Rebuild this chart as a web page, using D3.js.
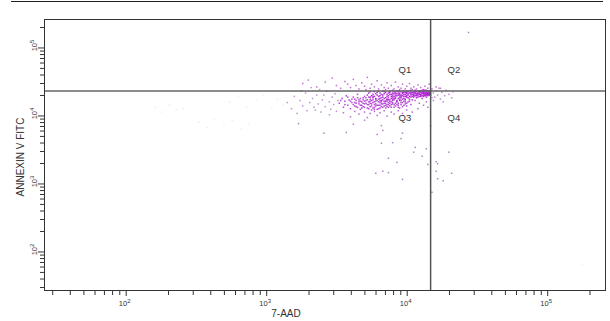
<!DOCTYPE html>
<html>
<head>
<meta charset="utf-8">
<script src="https://cdn.jsdelivr.net/npm/d3@7"></script>
<style>
  html, body { margin: 0; padding: 0; background: #fff; }
  svg { display: block; font-family: "Liberation Sans", Arial, sans-serif; }
</style>
</head>
<body>
<div id="chart"></div>
<script>
// log10 of (7-AAD, ANNEXIN V FITC) per event
const coreEvents = [
  [3.74,4.27],[3.76,4.31],[3.78,4.24],[3.79,4.34],[3.81,4.29],[3.82,4.22],[3.83,4.36],[3.85,4.26],[3.86,4.31],[3.87,4.23],
  [3.88,4.34],[3.89,4.28],[3.90,4.37],[3.91,4.25],[3.92,4.30],[3.93,4.21],[3.94,4.33],[3.95,4.27],[3.96,4.35],[3.97,4.24],
  [3.98,4.31],[3.99,4.28],[4.00,4.36],[4.01,4.26],[4.02,4.33],[4.03,4.30],[4.04,4.23],[4.05,4.35],[4.06,4.29],[4.07,4.32],
  [4.08,4.27],[4.09,4.36],[4.10,4.31],[4.11,4.25],[4.12,4.34],[4.13,4.29],[4.14,4.37],[4.15,4.32],[4.16,4.35],
  [3.73,4.33],[3.75,4.22],[3.77,4.28],[3.80,4.36],[3.81,4.25],[3.84,4.32],[3.85,4.21],[3.87,4.29],[3.88,4.36],[3.90,4.24],
  [3.91,4.32],[3.92,4.27],[3.94,4.36],[3.95,4.22],[3.96,4.30],[3.98,4.25],[3.99,4.34],[4.00,4.29],[4.02,4.24],[4.03,4.37],
  [4.04,4.31],[4.06,4.34],[4.07,4.26],[4.08,4.33],[4.10,4.28],[4.11,4.35],[4.12,4.30],[4.13,4.33],[4.14,4.27],[4.15,4.36],
  [4.16,4.31],
  [3.72,4.30],[3.74,4.35],[3.76,4.26],[3.78,4.32],[3.80,4.28],[3.82,4.31],[3.83,4.27],[3.84,4.35],[3.86,4.24],[3.87,4.33],
  [3.89,4.31],[3.90,4.27],[3.91,4.35],[3.93,4.29],[3.94,4.25],[3.95,4.32],[3.97,4.29],[3.98,4.36],[3.99,4.23],[4.01,4.32],
  [4.02,4.28],[4.03,4.34],[4.05,4.27],[4.05,4.31],[4.06,4.36],[4.08,4.30],[4.09,4.33],[4.10,4.34],[4.11,4.29],[4.12,4.37],
  [4.13,4.32],[4.14,4.30],[4.15,4.29],[4.16,4.33],[4.17,4.36],
  [3.75,4.29],[3.77,4.35],[3.79,4.30],[3.81,4.33],[3.83,4.30],[3.85,4.34],[3.86,4.28],[3.88,4.31],[3.89,4.25],[3.90,4.33],
  [3.92,4.35],[3.93,4.32],[3.95,4.30],[3.96,4.26],[3.97,4.34],[3.98,4.28],[4.00,4.32],[4.01,4.35],[4.03,4.27],[4.04,4.34],
  [4.05,4.33],[4.07,4.29],[4.08,4.36],[4.09,4.31],[4.11,4.32],[4.12,4.28],[4.13,4.35],[4.14,4.33],[4.16,4.30],
  [3.90,4.30],[3.91,4.28],[3.92,4.33],[3.93,4.36],[3.94,4.30],[3.95,4.35],[3.96,4.28],[3.97,4.32],[3.98,4.34],[3.99,4.31],
  [4.00,4.27],[4.00,4.34],[4.01,4.30],[4.02,4.36],[4.03,4.32],[4.04,4.28],[4.05,4.29],[4.06,4.32],[4.07,4.35],[4.07,4.30],
  [4.08,4.32],[4.09,4.28],[4.09,4.35],[4.10,4.30],[4.10,4.36],[4.11,4.33],[4.12,4.32],[4.12,4.35],[4.13,4.30],[4.13,4.37],
  [4.14,4.34],[4.14,4.31],[4.15,4.34],[4.15,4.31],[4.16,4.36],[4.16,4.32],[4.17,4.33],[4.17,4.30],[4.11,4.37],[4.06,4.37]
];

const bodyEvents = [
  [3.52,4.18],[3.54,4.25],[3.55,4.12],[3.56,4.21],[3.57,4.29],[3.58,4.15],[3.59,4.23],[3.60,4.10],[3.61,4.19],[3.62,4.27],
  [3.63,4.14],[3.64,4.22],[3.65,4.31],[3.66,4.17],[3.67,4.09],[3.67,4.25],[3.68,4.20],[3.69,4.13],[3.70,4.28],[3.71,4.18],
  [3.72,4.11],[3.72,4.23],[3.73,4.16],[3.74,4.21],[3.75,4.08],[3.75,4.14],[3.76,4.19],[3.77,4.12],[3.78,4.17],[3.79,4.22],
  [3.80,4.10],[3.80,4.15],[3.81,4.19],[3.82,4.13],[3.83,4.17],[3.84,4.21],[3.85,4.11],[3.86,4.16],[3.87,4.19],[3.88,4.14],
  [3.89,4.20],[3.90,4.17],[3.91,4.12],[3.92,4.18],[3.94,4.15],[3.96,4.19],[3.97,4.13],[3.99,4.17],[4.01,4.20],[4.03,4.16],
  [3.53,4.22],[3.56,4.16],[3.58,4.27],[3.60,4.21],[3.62,4.16],[3.63,4.24],[3.65,4.12],[3.66,4.20],[3.68,4.15],[3.69,4.26],
  [3.70,4.17],[3.71,4.22],[3.73,4.27],[3.74,4.13],[3.76,4.23],[3.77,4.16],[3.78,4.21],[3.79,4.09],[3.81,4.15],[3.82,4.20],
  [3.84,4.14],[3.85,4.18],[3.87,4.12],[3.88,4.18],[3.90,4.22],[3.91,4.16],[3.93,4.20],[3.95,4.11],[3.98,4.21],[4.00,4.14],
  [3.64,4.18],[3.66,4.23],[3.68,4.11],[3.70,4.21],[3.72,4.16],[3.74,4.18],[3.76,4.11],[3.78,4.14],[3.80,4.20],[3.82,4.17],
  [3.83,4.23],[3.86,4.21],[3.88,4.23],[3.93,4.16],
  [3.61,4.24],[3.63,4.19],[3.64,4.13],[3.65,4.26],[3.67,4.21],[3.67,4.15],[3.69,4.18],[3.69,4.23],[3.70,4.12],[3.71,4.26],
  [3.73,4.20],[3.73,4.10],[3.74,4.24],[3.75,4.17],[3.76,4.28],[3.77,4.20],[3.77,4.09],[3.78,4.25],[3.79,4.15],[3.80,4.24],
  [3.81,4.11],[3.81,4.22],[3.82,4.26],[3.83,4.12],[3.84,4.18],[3.84,4.25],[3.85,4.15],[3.86,4.23],[3.86,4.13],[3.87,4.26],
  [3.87,4.16],[3.88,4.21],[3.89,4.16],[3.89,4.12],[3.90,4.19],[3.91,4.23],[3.92,4.14],[3.92,4.25],[3.93,4.22],[3.94,4.18],
  [3.94,4.12],[3.95,4.24],[3.96,4.16],[3.96,4.22],[3.97,4.19],[3.98,4.15],[3.99,4.24],[3.99,4.20],[4.00,4.18],[4.02,4.21]
];

const upperEvents = [
  [3.26,4.47],[3.30,4.52],[3.36,4.42],[3.42,4.49],[3.47,4.55],[3.50,4.44],[3.53,4.40],[3.56,4.50],[3.58,4.46],[3.60,4.41],
  [3.62,4.53],[3.64,4.44],[3.66,4.39],[3.68,4.48],[3.70,4.43],[3.72,4.56],[3.74,4.40],[3.75,4.46],[3.77,4.42],[3.79,4.51],
  [3.80,4.39],[3.82,4.45],[3.84,4.41],[3.86,4.48],[3.87,4.40],[3.89,4.44],[3.91,4.39],[3.92,4.49],[3.94,4.42],[3.96,4.40],
  [3.97,4.46],[3.99,4.39],[4.00,4.43],[4.02,4.47],[4.03,4.40],[4.05,4.42],[4.07,4.39],[4.08,4.45],[4.10,4.41],[4.12,4.38],
  [4.13,4.43],[4.15,4.40],[4.16,4.46],[4.18,4.39],[4.21,4.42],[4.24,4.40],[3.71,4.38],[3.85,4.38],[3.95,4.38],[4.04,4.38]
];

const leftEvents = [
  [3.15,4.19],[3.18,4.10],[3.20,4.28],[3.22,4.03],[3.24,4.22],[3.26,4.14],[3.28,4.33],[3.29,4.07],[3.31,4.19],[3.33,4.25],
  [3.34,4.12],[3.36,4.30],[3.37,4.17],[3.39,4.05],[3.40,4.23],[3.42,4.13],[3.43,4.36],[3.45,4.20],[3.46,4.09],[3.47,4.27],
  [3.48,4.16],[3.49,4.32],[3.50,4.06],[3.51,4.22],[3.45,4.01],[3.38,4.38],[3.32,4.41],[3.25,4.36],[3.41,4.30],[3.35,4.08]
];

const lowerEvents = [
  [3.55,4.04],[3.60,3.98],[3.63,4.06],[3.66,4.02],[3.70,4.05],[3.72,3.97],[3.74,4.03],[3.77,4.06],[3.79,4.00],[3.81,4.04],
  [3.84,4.07],[3.86,3.99],[3.89,4.05],[3.91,4.02],[3.94,4.07],[3.97,4.03],[4.00,4.08],[4.04,4.05],[4.08,4.10],[4.12,4.15],
  [4.15,4.12],[4.14,4.20],[4.09,4.18],[4.06,4.22]
];

const rightEvents = [
  [4.19,4.33],[4.20,4.27],[4.21,4.36],[4.22,4.30],[4.24,4.24],[4.25,4.34],[4.27,4.29],[4.28,4.37],[4.30,4.31],[4.32,4.26],
  [4.19,4.22],[4.23,4.40],[4.26,4.20],[4.18,4.26],[4.33,4.35]
];

const scatterEvents = [
  [3.82,3.85],[3.83,3.78],[3.79,3.72],[3.82,3.59],[3.97,3.74],[3.90,3.60],[3.96,3.66],[4.06,3.53],[4.05,3.46],[4.14,3.51],
  [4.11,3.40],[3.87,3.37],[3.93,3.31],[3.83,3.18],[3.78,3.15],[3.87,3.16],[3.97,3.06],[4.15,3.28],[4.21,3.32],[4.22,3.29],
  [4.30,3.46],[4.21,3.18],[4.32,3.15],[4.22,3.07],[4.26,3.04],[4.18,2.87],[4.17,3.84],[3.23,3.88],[3.41,3.74],[3.57,3.75],
  [3.62,3.87],[3.70,3.93],[4.44,5.22]
];

const faintEvents = [
  [2.21,4.12],[2.26,4.05],[2.31,4.15],[2.36,4.08],[2.41,4.10],[2.52,3.90],[2.58,3.82],[2.63,3.94],[2.70,3.86],[2.76,3.92],
  [2.82,3.80],[2.88,3.88],[2.74,4.20],[2.80,4.28],[2.86,4.12],[2.93,4.22],[2.98,4.30],[3.04,4.10],[3.08,4.24],[3.12,4.16],
  [5.25,1.81]
];

const gateX = 14800;
const gateY = 22900;
const quadLabels = ["Q1", "Q2", "Q3", "Q4"];
const xTitle = "7-AAD";
const yTitle = "ANNEXIN V FITC";

const W = 610, H = 321;
const frame = { left: 44, top: 19, right: 606, bottom: 291 };

const svg = d3.select("#chart").append("svg")
  .attr("width", W)
  .attr("height", H);

// rule across the top of the page
svg.append("line")
  .attr("x1", 11).attr("x2", 603)
  .attr("y1", 1.5).attr("y2", 1.5)
  .attr("stroke", "#222").attr("stroke-width", 1);

const x = d3.scaleLog().domain([262144 / 1e4, 262144]).range([frame.left, frame.right]);
const y = d3.scaleLog().domain([262144 / 1e4, 262144]).range([frame.bottom, frame.top]);

const isMajor = d => Math.abs(Math.log10(d) - Math.round(Math.log10(d))) < 1e-6;
const tickVals = x.ticks();

// x axis ticks
const gx = svg.append("g")
  .attr("transform", "translate(0," + frame.bottom + ")")
  .call(d3.axisBottom(x).tickValues(tickVals).tickSize(4).tickSizeOuter(0).tickFormat(""));
gx.select(".domain").remove();
gx.selectAll(".tick line").attr("stroke", "#333")
  .attr("y2", d => isMajor(d) ? 5 : 4);

// y axis ticks
const gy = svg.append("g")
  .attr("transform", "translate(" + frame.left + ",0)")
  .call(d3.axisLeft(y).tickValues(tickVals).tickSize(4).tickSizeOuter(0).tickFormat(""));
gy.select(".domain").remove();
gy.selectAll(".tick line").attr("stroke", "#333")
  .attr("x2", d => isMajor(d) ? -6 : -4);

const majors = tickVals.filter(isMajor);

// x tick labels: 10 with superscript exponent
majors.forEach(v => {
  const t = svg.append("text")
    .attr("x", x(v) - 1)
    .attr("y", 306)
    .attr("text-anchor", "middle")
    .attr("fill", "#333")
    .style("font-size", "7.5px");
  t.append("tspan").text("10");
  t.append("tspan").attr("dy", -3).style("font-size", "6px").text(Math.round(Math.log10(v)));
});

// y tick labels, rotated
majors.forEach(v => {
  const t = svg.append("text")
    .attr("transform", "translate(37," + (y(v) - 2) + ") rotate(-90)")
    .attr("text-anchor", "middle")
    .attr("fill", "#333")
    .style("font-size", "7.5px");
  t.append("tspan").text("10");
  t.append("tspan").attr("dy", -3).style("font-size", "6px").text(Math.round(Math.log10(v)));
});

// events
const toData = d => [Math.pow(10, d[0]), Math.pow(10, d[1])];
const plotEvents = (data, color, opacity) => {
  svg.append("g").selectAll("rect")
    .data(data.map(toData))
    .enter()
    .append("rect")
    .attr("x", d => x(d[0]) - 0.75)
    .attr("y", d => y(d[1]) - 0.75)
    .attr("width", 1.5)
    .attr("height", 1.5)
    .attr("fill", color)
    .attr("fill-opacity", opacity);
};

plotEvents(faintEvents, "#e6dce8", 0.5);
plotEvents(scatterEvents, "#9a58b0", 0.75);
plotEvents(leftEvents, "#b060c8", 0.7);
plotEvents(upperEvents, "#b050c8", 0.8);
plotEvents(lowerEvents, "#a848c0", 0.8);
plotEvents(rightEvents, "#b060c8", 0.75);
plotEvents(bodyEvents, "#a828cc", 0.85);
plotEvents(coreEvents, "#a814d0", 0.9);

// quadrant gates
svg.append("line")
  .attr("x1", frame.left).attr("x2", frame.right)
  .attr("y1", y(gateY)).attr("y2", y(gateY))
  .attr("stroke", "#666").attr("stroke-width", 1.5);
svg.append("line")
  .attr("x1", x(gateX)).attr("x2", x(gateX))
  .attr("y1", frame.top).attr("y2", frame.bottom)
  .attr("stroke", "#555").attr("stroke-width", 1.5);

// frame
svg.append("rect")
  .attr("x", frame.left + 0.5).attr("y", frame.top + 0.5)
  .attr("width", frame.right - frame.left - 1)
  .attr("height", frame.bottom - frame.top - 1)
  .attr("fill", "none")
  .attr("stroke", "#333");

// quadrant labels
const qPos = [
  [x(gateX) - 32, y(gateY) - 18],
  [x(gateX) + 17, y(gateY) - 18],
  [x(gateX) - 32, y(gateY) + 30],
  [x(gateX) + 17, y(gateY) + 30]
];
quadLabels.forEach((q, i) => {
  svg.append("text")
    .attr("x", qPos[i][0])
    .attr("y", qPos[i][1])
    .attr("fill", "#333")
    .style("font-size", "9.5px")
    .text(q);
});

// axis titles
svg.append("text")
  .attr("x", 286)
  .attr("y", 317)
  .attr("text-anchor", "middle")
  .attr("fill", "#333")
  .style("font-size", "10px")
  .text(xTitle);

svg.append("text")
  .attr("transform", "translate(24,157) rotate(-90)")
  .attr("text-anchor", "middle")
  .attr("fill", "#333")
  .style("font-size", "10px")
  .text(yTitle);
</script>
</body>
</html>
